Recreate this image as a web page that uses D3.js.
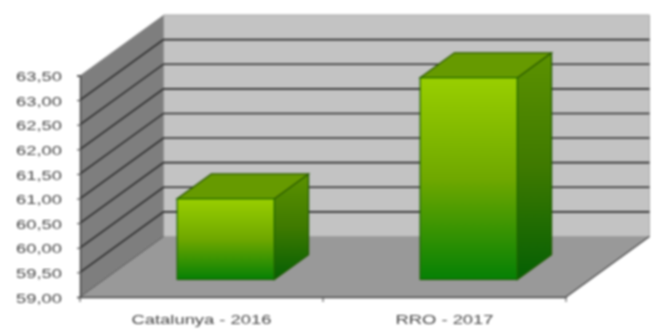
<!DOCTYPE html>
<html><head><meta charset="utf-8">
<script src="https://cdn.jsdelivr.net/npm/d3@7"></script>
<style>
html,body{margin:0;padding:0;background:#fff;overflow:hidden}
svg{display:block;filter:blur(0.85px)}
text{font-family:"Liberation Sans",Arial,sans-serif;font-size:13px;fill:#444}
</style></head><body>
<script>
const categories = ["Catalunya - 2016", "RRO - 2017"];
const values = [60.64, 63.1];
const tickValues = [59, 59.5, 60, 60.5, 61, 61.5, 62, 62.5, 63, 63.5];
const gridValues = [59.5, 60, 60.5, 61, 61.5, 62, 62.5, 63];

const W = 658, H = 329;
const svg = d3.select("body").append("svg").attr("width", W).attr("height", H);
const y = d3.scaleLinear().domain([59, 63.5]).range([297, 75.5]);
const x = d3.scaleBand().domain(categories).range([80, 566]);
const depthX = d3.scaleLinear().domain([0, 1]).range([0, 83.5]);
const depthY = d3.scaleLinear().domain([0, 1]).range([0, -60.5]);
const fmt = v => d3.format(".2f")(v).replace(".", ",");
const poly = pts => pts.map(p => p.join(",")).join(" ");

const defs = svg.append("defs");
function grad(id, stops) {
  const g = defs.append("linearGradient").attr("id", id).attr("x1", 0).attr("y1", 0).attr("x2", 0).attr("y2", 1);
  stops.forEach(s => g.append("stop").attr("offset", s[0]).attr("stop-color", s[1]));
}
grad("front", [[0, "#99cf00"], [0.5, "#6fa800"], [1, "#058005"]]);
grad("side", [[0, "#5c9200"], [0.5, "#3f7a00"], [1, "#045f04"]]);

const x0 = x.range()[0], x1 = x.range()[1], yb = y(59), yt = y(63.5);
const dx = depthX(1), dy = depthY(1);

// back wall, side wall, floor
svg.append("polygon").attr("points", poly([[x0 + dx, yt + dy], [x1 + dx, yt + dy], [x1 + dx, yb + dy], [x0 + dx, yb + dy]])).attr("fill", "#c3c3c3").attr("stroke", "#a8a8a8").attr("stroke-width", 1);
svg.append("polygon").attr("points", poly([[x0, yb], [x0, yt], [x0 + dx, yt + dy], [x0 + dx, yb + dy]])).attr("fill", "#7e7e7e");
svg.append("polygon").attr("points", poly([[x0, yb], [x1, yb], [x1 + dx, yb + dy], [x0 + dx, yb + dy]])).attr("fill", "#999999");

// grid lines on both walls
svg.selectAll(".g").data(gridValues).join("polyline").attr("fill", "none").attr("stroke", "#2c2c2c").attr("stroke-width", 1.6)
  .attr("points", v => poly([[x0, y(v)], [x0 + dx, y(v) + dy], [x1 + dx, y(v) + dy]]));
svg.append("line").attr("x1", x0).attr("y1", yb).attr("x2", x0 + dx).attr("y2", yb + dy).attr("stroke", "#555").attr("stroke-width", 1);
svg.append("line").attr("x1", x1).attr("y1", yb).attr("x2", x1 + dx).attr("y2", yb + dy).attr("stroke", "#444").attr("stroke-width", 1.2);

// bars
const barW = x.bandwidth() * 0.4, dNear = 0.29, dFar = 0.7;
categories.forEach((c, i) => {
  const cx = x(c) + x.bandwidth() / 2;
  const l = cx - barW / 2 + depthX(dNear), r = l + barW;
  const bot = y(59) + depthY(dNear);
  const top = y(values[i]) + depthY(dNear);
  const sx = depthX(dFar - dNear), sy = depthY(dFar - dNear);
  svg.append("polygon").attr("points", poly([[r, bot], [r, top], [r + sx, top + sy], [r + sx, bot + sy]])).attr("fill", "url(#side)").attr("stroke", "#1f5a00").attr("stroke-width", 1.2);
  svg.append("polygon").attr("points", poly([[l, top], [r, top], [r + sx, top + sy], [l + sx, top + sy]])).attr("fill", "#669a00").attr("stroke", "#2c5a00").attr("stroke-width", 1.2);
  svg.append("rect").attr("x", l).attr("y", top).attr("width", barW).attr("height", bot - top).attr("fill", "url(#front)").attr("stroke", "#1c6000").attr("stroke-width", 1.2);
});

// axes
const yAxis = svg.append("g").attr("transform", `translate(${x0},0)`)
  .call(d3.axisLeft(y).tickValues(tickValues).tickFormat(fmt).tickSize(3).tickPadding(15));
yAxis.selectAll("path,line").attr("stroke", "#444");
yAxis.select("path").attr("stroke-width", 1.5);
yAxis.attr("font-size", null).attr("font-family", null);
yAxis.selectAll("text").attr("dy", "0.62em").attr("y", -3)
  .attr("textLength", 46).attr("lengthAdjust", "spacingAndGlyphs");

const xAxis = svg.append("g").attr("transform", `translate(0,${yb})`)
  .call(d3.axisBottom(x).tickSize(0).tickPadding(0));
xAxis.selectAll("path").attr("stroke", "#444").attr("stroke-width", 1.5);
xAxis.attr("font-size", null).attr("font-family", null);
const labelLen = [140, 98];
xAxis.selectAll("text").attr("dy", "0").attr("y", 27)
  .attr("textLength", (d, i) => labelLen[i]).attr("lengthAdjust", "spacingAndGlyphs");

// category tick marks at band edges
svg.append("g").selectAll("line").data([...categories.map(c => x(c)), x1]).join("line")
  .attr("x1", d => d).attr("x2", d => d).attr("y1", yb).attr("y2", yb + 5).attr("stroke", "#444");
</script>
</body></html>
